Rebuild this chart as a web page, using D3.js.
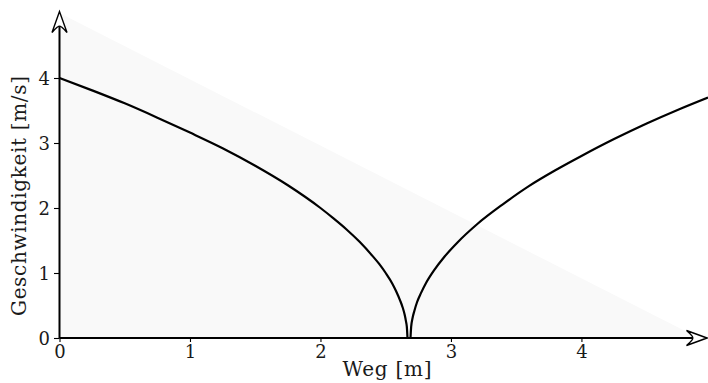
<!DOCTYPE html>
<html>
<head>
<meta charset="utf-8">
<script src="https://cdn.jsdelivr.net/npm/d3@7"></script>
<style>
  html, body { margin: 0; padding: 0; background: #fff; }
  svg { display: block; }
  text { font-family: "DejaVu Serif", serif; fill: #1a1a1a; }
</style>
</head>
<body>
<svg id="chart" width="708" height="383"></svg>
<script>
// Braking branch: speed falls from 4 m/s to rest
const brakeWeg = [0, 0.25, 0.5, 0.75, 1, 1.25, 1.5, 1.75, 2, 2.1, 2.2, 2.3, 2.4, 2.45, 2.5, 2.55, 2.58, 2.61, 2.63, 2.645, 2.655, 2.662, 2.667];
const brakeV   = [4, 3.81, 3.61, 3.39, 3.16, 2.92, 2.65, 2.35, 2.0, 1.84, 1.67, 1.48, 1.26, 1.14, 1.0, 0.84, 0.72, 0.58, 0.47, 0.36, 0.26, 0.17, 0];

// Accelerating branch: speed rises again from rest
const accelWeg = [2.69, 2.695, 2.705, 2.72, 2.74, 2.77, 2.81, 2.87, 2.95, 3.05, 3.2, 3.4, 3.6, 3.8, 4.0, 4.25, 4.5, 4.75, 4.97];
const accelV   = [0, 0.17, 0.3, 0.42, 0.55, 0.69, 0.85, 1.04, 1.25, 1.47, 1.75, 2.06, 2.34, 2.58, 2.80, 3.06, 3.30, 3.52, 3.70];

// Shaded region corners (Weg, v)
const regionWeg = [0, 0, 4.9];
const regionV   = [0, 5.0, 0];

const xTicks = [0, 1, 2, 3, 4];
const yTicks = [0, 1, 2, 3, 4];
const xLabel = "Weg [m]";
const yLabel = "Geschwindigkeit [m/s]";

const svg = d3.select("#chart");
const x0 = 59.5, y0 = 338;
const x = d3.scaleLinear().domain([0, 4.97]).range([x0, 708]);
const y = d3.scaleLinear().domain([0, 5]).range([y0, 13]);

// shaded triangle
svg.append("path")
  .attr("d", d3.line()(regionWeg.map((w, i) => [x(w), y(regionV[i])])) + "Z")
  .attr("fill", "#f9f9f9");

// curves
const line = d3.line().x(d => x(d[0])).y(d => y(d[1])).curve(d3.curveMonotoneX);
[[brakeWeg, brakeV], [accelWeg, accelV]].forEach(([ws, vs]) => {
  svg.append("path")
    .attr("d", line(ws.map((w, i) => [w, vs[i]])))
    .attr("fill", "none")
    .attr("stroke", "#000")
    .attr("stroke-width", 2.2);
});

// axes
const xAxis = svg.append("g").attr("transform", `translate(0,${y0})`)
  .call(d3.axisBottom(x).tickValues(xTicks).tickSize(4).tickFormat(d3.format("d")));
const yAxis = svg.append("g").attr("transform", `translate(${x0},0)`)
  .call(d3.axisLeft(y).tickValues(yTicks).tickSize(5.5).tickFormat(d3.format("d")));
[xAxis, yAxis].forEach(g => {
  g.select(".domain").remove();
  g.selectAll(".tick line").attr("stroke", "#000").attr("stroke-width", 1.1);
  g.selectAll(".tick text").attr("font-size", 18).attr("font-family", "DejaVu Serif").attr("fill", "#1a1a1a");
});
xAxis.selectAll(".tick text").attr("y", 7).attr("dy", "0.71em");
yAxis.selectAll(".tick text").attr("x", -9.5).attr("dy", "0.36em");

// axis lines with open arrowheads
svg.append("line").attr("x1", x0).attr("y1", y0).attr("x2", 697).attr("y2", y0)
  .attr("stroke", "#000").attr("stroke-width", 2);
svg.append("line").attr("x1", x0).attr("y1", y0).attr("x2", x0).attr("y2", 27)
  .attr("stroke", "#000").attr("stroke-width", 2);

// x arrow: tip at right end
svg.append("path")
  .attr("d", `M707,${y0} L686.5,${y0 - 7.5} Q694,${y0 - 1} 692.5,${y0} Q694,${y0 + 1} 686.5,${y0 + 7.5} Z`)
  .attr("fill", "#fff").attr("stroke", "#000").attr("stroke-width", 1.4).attr("stroke-linejoin", "miter");
// y arrow: tip at top
svg.append("path")
  .attr("d", `M${x0},11.5 L${x0 - 7.5},32.5 Q${x0 - 1},25 ${x0},26.5 Q${x0 + 1},25 ${x0 + 7.5},32.5 Z`)
  .attr("fill", "#fff").attr("stroke", "#000").attr("stroke-width", 1.4).attr("stroke-linejoin", "miter");

// axis titles
svg.append("text").attr("x", 387).attr("y", 376).attr("text-anchor", "middle")
  .attr("font-size", 20).attr("textLength", 89).attr("lengthAdjust", "spacing").text(xLabel);
svg.append("text").attr("transform", "translate(26,196) rotate(-90)").attr("text-anchor", "middle")
  .attr("font-size", 20).attr("textLength", 240).attr("lengthAdjust", "spacing").text(yLabel);
</script>
</body>
</html>
